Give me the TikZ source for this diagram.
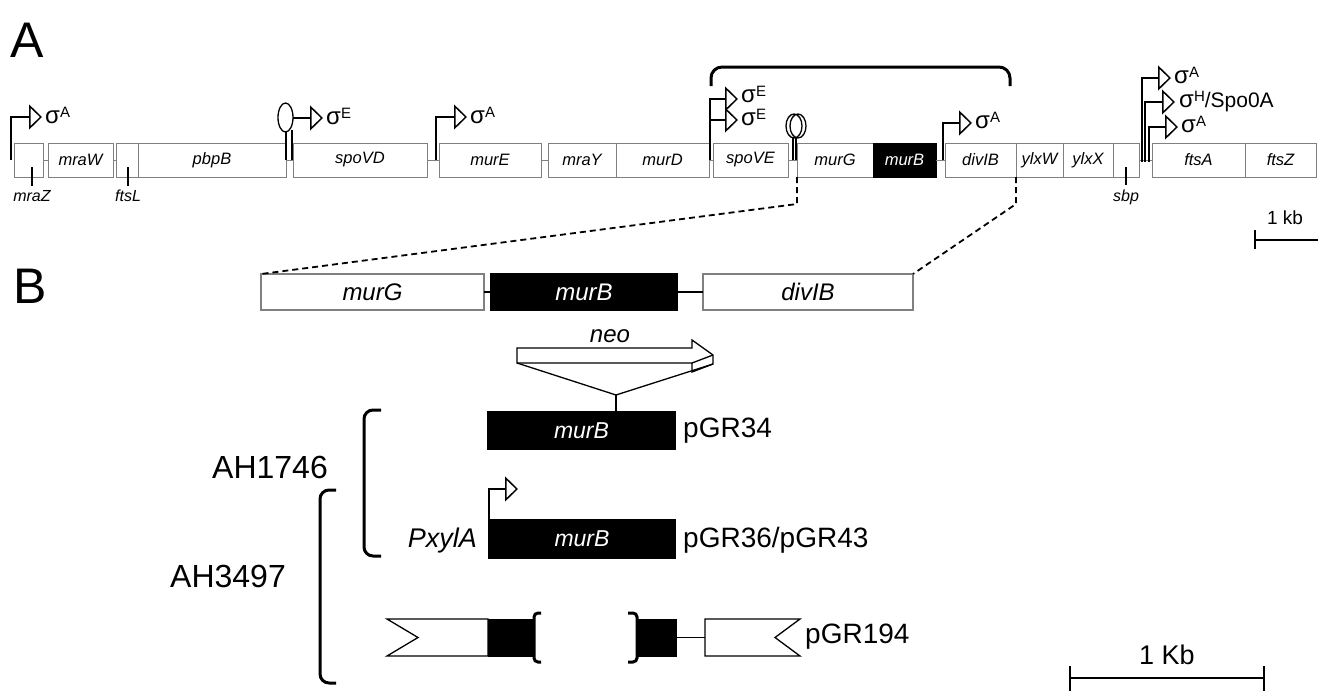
\documentclass[tikz,border=0pt]{standalone}
\usepackage{fontspec}
\setmainfont{Liberation Sans}
\usetikzlibrary{arrows.meta}
\newcommand{\sgm}[1]{{\fontsize{24}{24}\selectfont σ}\raisebox{6pt}{\fontsize{15}{15}\selectfont #1}}

\begin{document}
\begin{tikzpicture}[x=1pt, y=-1pt,
  gene/.style={draw=gray, line width=0.9pt, fill=white, anchor=west, minimum height=34pt, inner sep=0pt, outer sep=0pt, font=\fontsize{16.5}{18}\selectfont\itshape},
  genek/.style={gene, draw=black, fill=black, text=white},
  bgene/.style={draw=gray, line width=1.2pt, fill=white, anchor=west, minimum height=36pt, inner sep=0pt, outer sep=0pt, font=\fontsize{24}{28}\selectfont\itshape},
  bgenek/.style={bgene, draw=black, fill=black, text=white},
  gline/.style={gray, line width=0.9pt},
  bline/.style={line width=1.3pt},
  prom/.style={line width=1.5pt, -{Triangle[open, length=13pt, width=25pt]}},
  sig/.style={anchor=base west, inner sep=0pt, font=\fontsize{21}{21}\selectfont},
  tickline/.style={line width=1.2pt},
  under/.style={inner sep=0pt, font=\fontsize{16}{18}\selectfont\itshape},
  hp/.style={line width=1.3pt},
  brk/.style={line width=3pt, rounded corners=9pt},
  brkk/.style={line width=3pt, rounded corners=4pt},
  zoomline/.style={line width=1.8pt, dash pattern=on 6pt off 4pt},
  strain/.style={font=\fontsize{32}{36}\selectfont},
  plas/.style={anchor=west, inner sep=0pt, font=\fontsize{28}{32}\selectfont},
  barline/.style={line width=2.5pt},
  panel/.style={font=\fontsize{50}{50}\selectfont}
]
\useasboundingbox (0,0) rectangle (1318,691);

% panel A: gene map
\node[panel] (labA) at (27,40) {A};
\node[gene, minimum width=29pt] (mraZ) at (14,160) {};
\node[gene, minimum width=65pt] (mraW) at (48,160) {mraW};
\node[gene, minimum width=22pt] (ftsL) at (116,160) {};
\node[gene, minimum width=148pt] (pbpB) at (138,160) {pbpB};
\node[gene, minimum width=134pt] (spoVD) at (293,160) {spoVD};
\node[gene, minimum width=102pt] (murE) at (439,160) {murE};
\node[gene, minimum width=68pt] (mraY) at (548,160) {mraY};
\node[gene, minimum width=93pt] (murD) at (616,160) {murD};
\node[gene, minimum width=75pt] (spoVE) at (713,160) {spoVE};
\node[gene, minimum width=76pt] (murG) at (797,160) {murG};
\node[genek, minimum width=63pt] (murB) at (873,160) {murB};
\node[gene, minimum width=71pt] (divIB) at (945,160) {divIB};
\node[gene, minimum width=47pt] (ylxW) at (1016,160) {ylxW};
\node[gene, minimum width=50pt] (ylxX) at (1063,160) {ylxX};
\node[gene, minimum width=26pt] (sbp) at (1113,160) {};
\node[gene, minimum width=93pt] (ftsA) at (1152,160) {ftsA};
\node[gene, minimum width=71pt] (ftsZ) at (1245,160) {ftsZ};
\foreach \a/\b in {mraZ/mraW, mraW/ftsL, pbpB/spoVD, spoVD/murE, murE/mraY, murD/spoVE, spoVE/murG, murB/divIB, sbp/ftsA}
  \draw[gline] (\a) -- (\b);

% small genes labelled below
\draw[tickline] (32,167) -- (32,186);
\node[under] (lmraZ) at (32,196) {mraZ};
\draw[tickline] (128,167) -- (128,186);
\node[under] (lftsL) at (128,196) {ftsL};
\draw[tickline] (1126,167) -- (1126,185);
\node[under] (lsbp) at (1126,197) {sbp};

% promoters and terminators
\draw[prom] (11,160) |- (42,117);
\node[sig] (sA1) at (45,123) {\sgm{A}};
\draw[hp] (285.5,117.5) ellipse [x radius=7.5pt, y radius=14.5pt];
\draw[hp] (286,132) -- (286,160) (292,130) -- (292,160);
\draw[prom] (293,118) -- (323,118);
\node[sig] (sE1) at (326,124) {\sgm{E}};
\draw[prom] (436,160) |- (467,117);
\node[sig] (sA2) at (470,123) {\sgm{A}};
\draw[prom] (710,160) |- (738,99);
\draw[prom] (710,120) -- (738,120);
\node[sig] (sE2) at (741,102) {\sgm{E}};
\node[sig] (sE3) at (741,125) {\sgm{E}};
\draw[hp] (794,126) ellipse [x radius=8pt, y radius=12pt];
\draw[hp] (798,126) ellipse [x radius=8pt, y radius=12pt];
\draw[hp] (793,138) -- (793,160) (796,138) -- (796,160);
\draw[prom] (943,160) |- (972,123);
\node[sig] (sA3) at (975,128) {\sgm{A}};
\draw[prom] (1142,162) |- (1171,78);
\node[sig] (sA4) at (1174,83) {\sgm{A}};
\draw[prom] (1145,162) |- (1175,102);
\node[sig] (sH) at (1179,107) {\sgm{H}/Spo0A};
\draw[prom] (1149,162) |- (1178,127);
\node[sig] (sA5) at (1181,132) {\sgm{A}};

% operon bracket
\draw[line width=3pt, rounded corners=11pt] (711,86) |- (860,67) -| (1010,86);

% scale A
\draw[barline] (1255,230) -- (1255,249) (1255,240) -- (1318,240);
\node[font=\fontsize{19}{22}\selectfont] (kbA) at (1285,218) {1 kb};

% panel B
\node[panel] (labB) at (30,286) {B};
\node[bgene, minimum width=223pt] (bmurG) at (261,292) {murG};
\node[bgenek, minimum width=186pt] (bmurB) at (491,292) {murB};
\node[bgene, minimum width=210pt] (bdivIB) at (703,292) {divIB};
\draw[bline] (bmurG) -- (bmurB);
\draw[bline] (bmurB) -- (bdivIB);
\draw[zoomline] (murG.south west) -- ++(0,27) -- (bmurG.north west);
\draw[zoomline] (divIB.south east) -- ++(0,27) -- (bdivIB.north east);

% neo insertion
\draw[bline, fill=white] (517,348) -- (692,348) -- (692,340) -- (713,355) -- (713,364) -- (692,372) -- (692,363) -- (517,363) -- cycle;
\draw[bline] (692,363) -- (713,355);
\node[font=\fontsize{24}{28}\selectfont\itshape] (neo) at (610,336) {neo};
\node[bgenek, minimum width=187pt, minimum height=37pt, font=\fontsize{23}{26}\selectfont\itshape] (pmurB) at (488,430.5) {murB};
\coordinate (ins) at (616,395);
\draw[bline] (517,363) -- (ins) -- (713,364);
\draw[bline] (ins) -- (ins |- pmurB.north);
\node[plas] (p34) at (683,431) {pGR34};

% xylose construct
\node[bgenek, minimum width=186pt, minimum height=38pt, font=\fontsize{23}{26}\selectfont\itshape] (xmurB) at (489,539) {murB};
\draw[prom] (xmurB.north west) |- (518,489);
\node[anchor=east, inner sep=0pt, font=\fontsize{27}{30}\selectfont\itshape] (pxyl) at (477,541) {PxylA};
\node[plas] (p36) at (683,540) {pGR36/pGR43};

% strains
\draw[brk] (381,410) -| (364,556) -- (381,556);
\draw[brk] (336,490) -| (320,683) -- (336,683);
\node[strain] (ah1) at (270,467) {AH1746};
\node[strain] (ah3) at (228,576) {AH3497};

% pGR194
\draw[bline, fill=white] (387,619) -- (488,619) -- (488,656) -- (387,656) -- (418,637.5) -- cycle;
\node[draw, fill=black, anchor=west, minimum width=45pt, minimum height=37pt, inner sep=0pt, outer sep=0pt] (lk) at (488,637.5) {};
\draw[brkk] (541,613) -- (534,613) -- (534,662) -- (541,662);
\draw[brkk] (628,613) -- (637,613) -- (637,662) -- (628,662);
\node[draw, fill=black, anchor=west, minimum width=39pt, minimum height=37pt, inner sep=0pt, outer sep=0pt] (rk) at (637,637.5) {};
\draw[bline, fill=white] (705,619) -- (800,619) -- (775,637.5) -- (800,656) -- (705,656) -- cycle;
\coordinate (rw) at (705,637.5);
\draw[bline] (rk) -- (rw);
\node[plas] (p194) at (805,637) {pGR194};

% scale B
\draw[barline] (1070,666) -- (1070,691) (1070,678) -- (1264,678) (1264,666) -- (1264,691);
\node[font=\fontsize{27}{30}\selectfont] (kbB) at (1167,655) {1 Kb};
\end{tikzpicture}
\end{document}
